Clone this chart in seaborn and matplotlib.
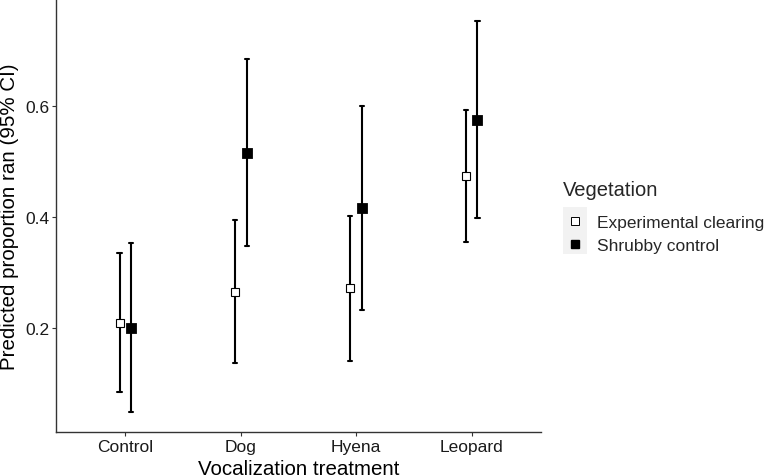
import numpy as np
import pandas as pd
import matplotlib
matplotlib.use("Agg")
import matplotlib.pyplot as plt
from matplotlib.lines import Line2D
from matplotlib.patches import Rectangle
import seaborn as sns

treatments = ["Control", "Dog", "Hyena", "Leopard"]
vegetation = ["Experimental clearing", "Shrubby control"]
clearing_est = [0.208, 0.265, 0.271, 0.474]
clearing_lo = [0.083, 0.136, 0.140, 0.355]
clearing_hi = [0.334, 0.394, 0.402, 0.594]
shrubby_est = [0.200, 0.516, 0.417, 0.576]
shrubby_lo = [0.047, 0.347, 0.232, 0.399]
shrubby_hi = [0.353, 0.686, 0.601, 0.755]

rows = []
for veg, est, lo, hi in [(vegetation[0], clearing_est, clearing_lo, clearing_hi),
                         (vegetation[1], shrubby_est, shrubby_lo, shrubby_hi)]:
    for t, e, l, h in zip(treatments, est, lo, hi):
        for v in (l, e, h):
            rows.append({"Vocalization treatment": t, "Vegetation": veg, "value": v})
df = pd.DataFrame(rows)

sns.set_theme(style="ticks")
plt.rcParams["font.family"] = ["Liberation Sans", "DejaVu Sans"]

W, H = 768, 477
fig = plt.figure(figsize=(W / 100, H / 100), dpi=100)
ax = fig.add_axes([56 / W, 1 - 432.7 / H, (541 - 56) / W, 431.7 / H])

sns.pointplot(data=df, x="Vocalization treatment", y="value", hue="Vegetation",
              order=treatments, hue_order=vegetation,
              estimator="median", errorbar=lambda x: (np.min(x), np.max(x)),
              palette=["black", "black"], markers=["s", "s"], linestyles="none",
              dodge=0.1, capsize=0.035, markersize=6.3,
              err_kws={"linewidth": 1.5}, ax=ax, legend=False)

marker_lines = [ln for ln in ax.lines if ln.get_marker() not in (None, "None", "", " ")]
if marker_lines:
    ln = marker_lines[0]
    ln.set_markerfacecolor("white")
    ln.set_markeredgecolor("black")
    ln.set_markeredgewidth(0.8)
for ln in marker_lines:
    ln.set_zorder(5)

ax.set_xlim(-0.6, 3.6)
ax.set_ylim(0.0116, 0.7926)
ax.set_yticks([0.2, 0.4, 0.6])
ax.set_yticklabels(["0.2", "0.4", "0.6"])
ax.set_xlabel("Vocalization treatment", fontsize=14.8, color="black", labelpad=3.5)
ax.set_ylabel("Predicted proportion ran (95% CI)", fontsize=14.8, color="black")
ax.yaxis.set_label_coords((19 - 56) / 485, 0.5)
ax.tick_params(axis="both", labelsize=12.5, colors="#333333", length=3, width=0.8,
               labelcolor="#1a1a1a")
ax.tick_params(axis="y", pad=1.5)
ax.tick_params(axis="x", pad=2)
for s in ["top", "right"]:
    ax.spines[s].set_visible(False)
for s in ["left", "bottom"]:
    ax.spines[s].set_color("#333333")
    ax.spines[s].set_linewidth(1.0)

# legend
handles = [Line2D([], [], marker="s", linestyle="none", markerfacecolor="white",
                  markeredgecolor="black", markeredgewidth=0.7, markersize=5.3),
           Line2D([], [], marker="s", linestyle="none", markerfacecolor="black",
                  markeredgecolor="black", markersize=5.3)]
fig.patches.append(Rectangle((563.3 / W, 1 - 255 / H), 23.4 / W, 46.7 / H,
                             transform=fig.transFigure, facecolor="#f2f2f2",
                             edgecolor="none", zorder=0))
leg = fig.legend(handles, vegetation, title="Vegetation", loc="upper left",
                 bbox_to_anchor=(563.3 / W, 1 - 181 / H), frameon=False,
                 fontsize=12.5, title_fontsize=14.5, handlelength=1.38,
                 handletextpad=0.55, labelspacing=0.45, borderaxespad=0,
                 borderpad=0)
leg._legend_box.align = "left"
leg._legend_box.sep = 11.5

fig.savefig("out.png", dpi=100)
